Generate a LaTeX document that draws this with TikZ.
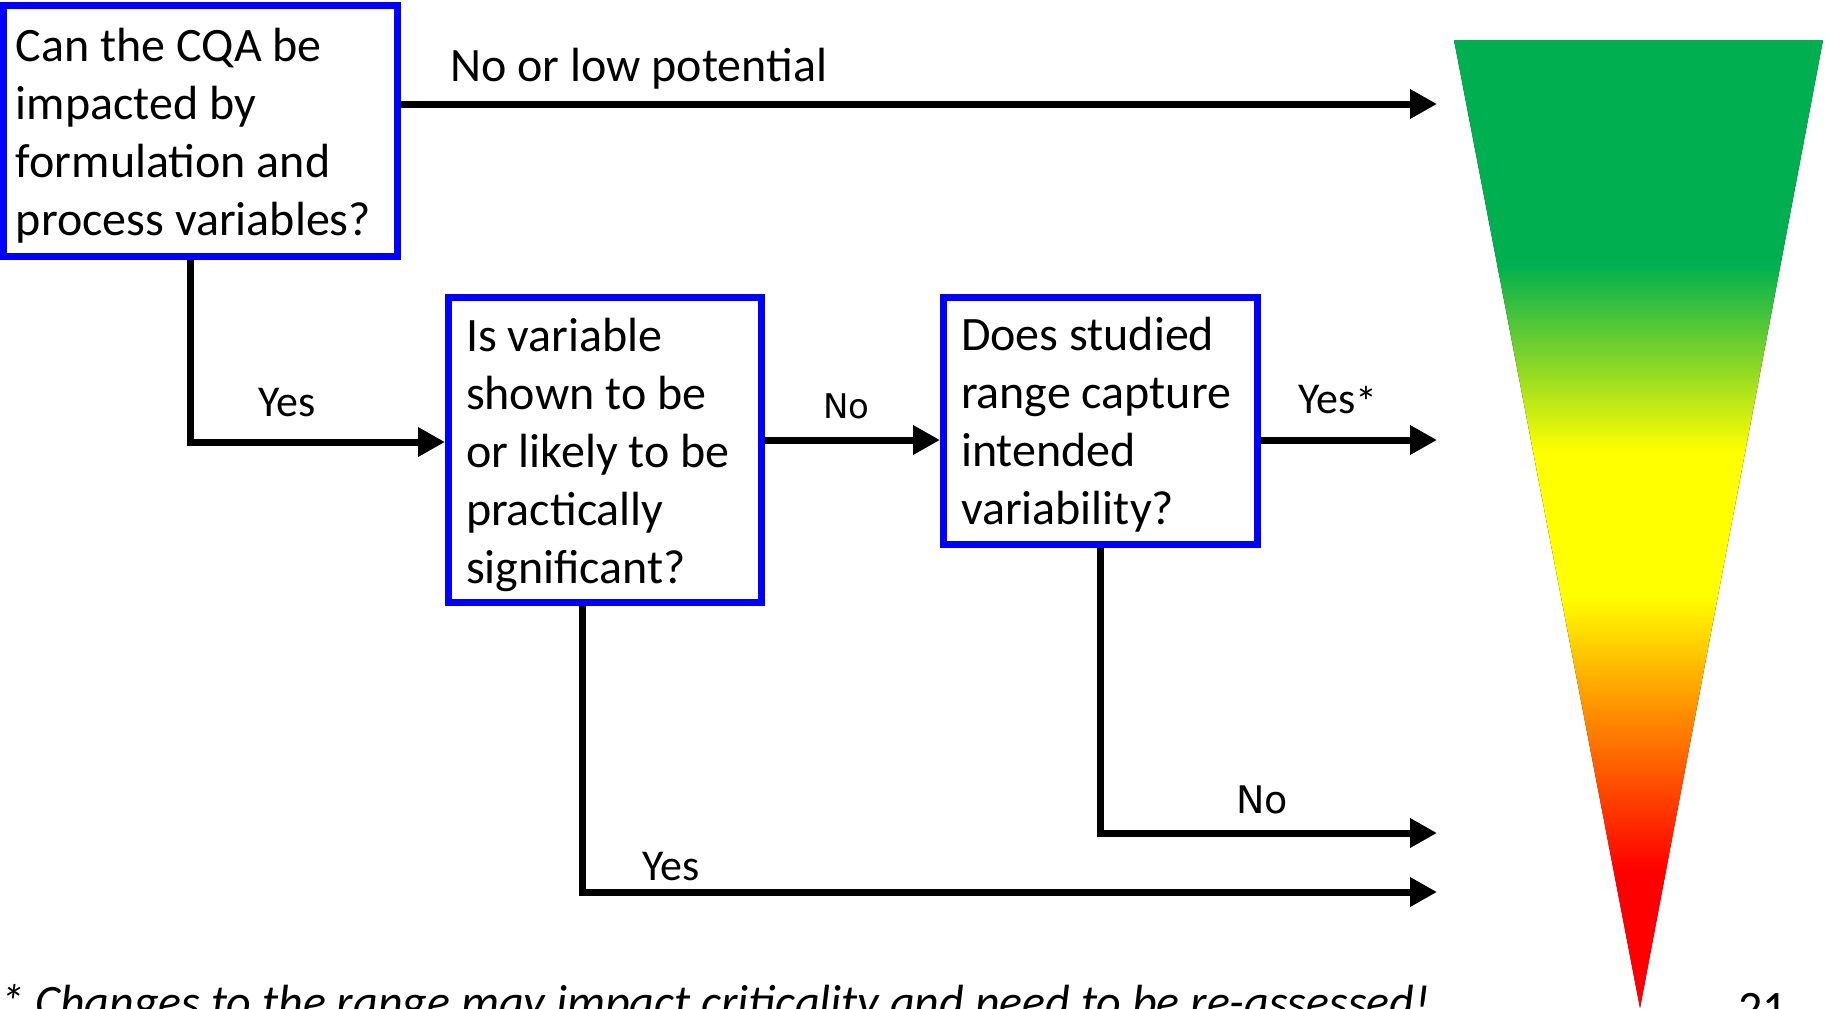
\documentclass[tikz,border=0pt]{standalone}
\usepackage{fontspec}
\setmainfont{Carlito}
\newfontfamily\labelfont{DejaVu Sans}
\usetikzlibrary{arrows.meta,positioning,calc}
\usepackage{xcolor}
\definecolor{boxblue}{RGB}{0,0,255}
\definecolor{riskgreen}{RGB}{0,176,80}
\definecolor{riskmid}{RGB}{130,212,40}
\definecolor{riskyellow}{RGB}{255,255,0}
\definecolor{riskorange}{RGB}{255,153,0}
\definecolor{riskred}{RGB}{255,0,0}
\pgfdeclareverticalshading{riskramp}{100bp}{color(0bp)=(riskred); color(32.1bp)=(riskred); color(40.9bp)=(riskorange); color(46.3bp)=(riskyellow); color(53.8bp)=(riskyellow); color(58.5bp)=(riskmid); color(63.4bp)=(riskgreen); color(100bp)=(riskgreen)}

\begin{document}
\begin{tikzpicture}[x=0.5pt,y=-0.5pt,
  question/.style={draw=boxblue,line width=3.5pt,fill=white,align=flush left,inner sep=0pt,
    font=\fontsize{24}{29}\selectfont},
  flow/.style={line width=3.5pt,-{Triangle[length=13.5pt,width=14pt]}},
  answer/.style={anchor=base west,inner sep=0pt,font=\fontsize{22}{26}\selectfont},
  answersans/.style={anchor=base west,inner sep=0pt,font=\labelfont\fontsize{#1}{20}\selectfont}]
\useasboundingbox (0,0) rectangle (1825,1008);
\clip (0,0) rectangle (1825,1008);

\fill[shading=riskramp] (1454,40) -- (1823,40) -- (1640,1008) -- cycle;

\node[question,minimum width=197pt,minimum height=125.5pt,text width=184.5pt] (q1) at (200.5,131)
  {\rule{0pt}{21pt}Can the CQA be\\impacted by\\formulation and\\process variables?};
\node[question,minimum width=156.5pt,minimum height=152.5pt,text width=139pt] (q2) at (605,450)
  {\rule{0pt}{22pt}Is variable\\shown to be\\or likely to be\\practically\\significant?};
\node[question,minimum width=157pt,minimum height=123.5pt,text width=139.5pt] (q3) at (1100.5,421)
  {\rule{0pt}{20pt}Does studied\\range capture\\intended\\variability?};

\coordinate (lowEnd) at (1437,104);
\coordinate (yesBend) at (190,442);
\coordinate (midEnd) at (1437,440);
\coordinate (noEnd) at (1437,833);
\coordinate (yesDrop) at (582,606);
\coordinate (yesEnd) at (1437,892);

\draw[flow] (q1.east |- lowEnd) -- (lowEnd);
\draw[flow] (q1.south -| yesBend) |- (q2.west |- yesBend);
\draw[flow] (q2.east |- midEnd) -- (q3.west |- midEnd);
\draw[flow] (q3.east |- midEnd) -- (midEnd);
\draw[flow] (q3.south) |- (noEnd);
\draw[flow] (q2.south -| yesDrop) |- (yesEnd);

\node[answer,font=\fontsize{24}{29}\selectfont] (lowlab) at (450,81) {No or low potential};
\node[answer] (yeslab) at (258,416) {Yes};
\node[answersans=17] (nolab) at (823,418) {No};
\node[answer] (yesstar) at (1298,413) {Yes\raisebox{-2pt}{*}};
\node[answersans=19] (nolow) at (1236,813) {No};
\node[answer] (yeslow) at (642,880) {Yes};

\node[anchor=base west,inner sep=0pt,font=\itshape\fontsize{24}{29}\selectfont] (caveat) at (0,1018)
  {* Changes to the range may impact criticality and need to be re-assessed!};
\node[anchor=base west,inner sep=0pt,font=\fontsize{24}{29}\selectfont] (slideno) at (1738,1024) {21};
\end{tikzpicture}
\end{document}
